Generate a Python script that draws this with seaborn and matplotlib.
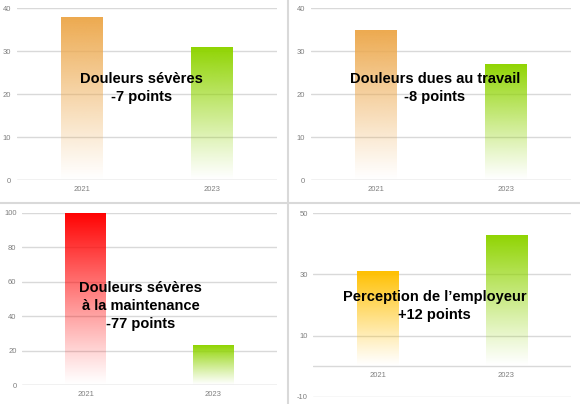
import numpy as np
import pandas as pd
import matplotlib
matplotlib.use("Agg")
import matplotlib.pyplot as plt
import seaborn as sns
from matplotlib.colors import to_rgb
from matplotlib.lines import Line2D

# Data
years = ["2021", "2023"]
severe_pain = [38, 31]
work_pain = [35, 27]
maintenance_pain = [100, 23]
employer_perception = [31, 43]

titles = [
    "Douleurs sévères\n-7 points",
    "Douleurs dues au travail\n-8 points",
    "Douleurs sévères\nà la maintenance\n-77 points",
    "Perception de l\u2019employeur\n+12 points",
]
colors = [
    ["#EDA94E", "#8FD400"],
    ["#EDA94E", "#8FD400"],
    ["#FF0000", "#8FD400"],
    ["#FFC000", "#8FD400"],
]
ylims = [(0, 40), (0, 40), (0, 100), (-10, 50)]
yticks = [[0, 10, 20, 30, 40], [0, 10, 20, 30, 40],
          [0, 20, 40, 60, 80, 100], [-10, 10, 30, 50]]
all_values = [severe_pain, work_pain, maintenance_pain, employer_perception]

sns.set_style("white")
plt.rcParams["font.family"] = ["Liberation Sans", "DejaVu Sans"]
plt.rcParams["axes.unicode_minus"] = False

fig = plt.figure(figsize=(5.8, 4.04), dpi=100)

# axes positions [left, bottom, width, height]
positions = [
    [0.029, 0.554, 0.449, 0.426],
    [0.536, 0.554, 0.448, 0.426],
    [0.038, 0.047, 0.440, 0.426],
    [0.540, 0.018, 0.444, 0.454],
]
text_pos = [(0.479, 0.535), (0.477, 0.535), (0.465, 0.46), (0.471, 0.495)]


def gradient_bar(ax, patch, color):
    x0, y0 = patch.get_x(), patch.get_y()
    w, h = patch.get_width(), patch.get_height()
    r, g, b = to_rgb(color)
    n = 256
    img = np.zeros((n, 1, 4))
    img[:, 0, 0] = r
    img[:, 0, 1] = g
    img[:, 0, 2] = b
    img[:, 0, 3] = np.linspace(1, 0, n) ** 1.1
    im = ax.imshow(img, extent=[x0, x0 + w, y0, y0 + h], aspect="auto",
                   origin="upper", zorder=2, interpolation="bilinear")
    im.set_clip_path(patch)
    patch.set_facecolor("none")
    patch.set_edgecolor("none")


for i in range(4):
    ax = fig.add_axes(positions[i])
    df = pd.DataFrame({"year": years, "value": all_values[i]})
    sns.barplot(data=df, x="year", y="value", hue="year", palette=colors[i],
                width=0.32, legend=False, ax=ax, zorder=2)
    for patch, c in zip(ax.patches, colors[i]):
        gradient_bar(ax, patch, c)

    ax.set_xlim(-0.5, 1.5)
    ax.set_ylim(*ylims[i])
    ax.set_yticks(yticks[i])
    ax.yaxis.grid(True, color="#D9D9D9", linewidth=1)
    ax.axhline(0, color="#D9D9D9", linewidth=1, zorder=1)
    ax.set_axisbelow(True)
    for s in ax.spines.values():
        s.set_visible(False)
    # category axis crosses at zero, like the original
    ax.spines["bottom"].set_position(("data", 0))
    ax.set_xlabel("")
    ax.set_ylabel("")
    ax.tick_params(axis="both", length=0, labelsize=5.5, colors="#7F7F7F")
    ax.tick_params(axis="x", pad=4)
    ax.tick_params(axis="y", pad=4)
    ax.set_facecolor("none")

    ax.text(text_pos[i][0], text_pos[i][1], titles[i], transform=ax.transAxes,
            ha="center", va="center", fontsize=10.5, fontweight="bold",
            color="black", linespacing=1.35, zorder=5)

# panel separators
fig.add_artist(Line2D([0.4966, 0.4966], [0, 1], transform=fig.transFigure,
                      color="#D9D9D9", linewidth=1.5))
fig.add_artist(Line2D([0, 1], [0.4975, 0.4975], transform=fig.transFigure,
                      color="#D9D9D9", linewidth=1.5))

fig.savefig("out.png", dpi=100)
